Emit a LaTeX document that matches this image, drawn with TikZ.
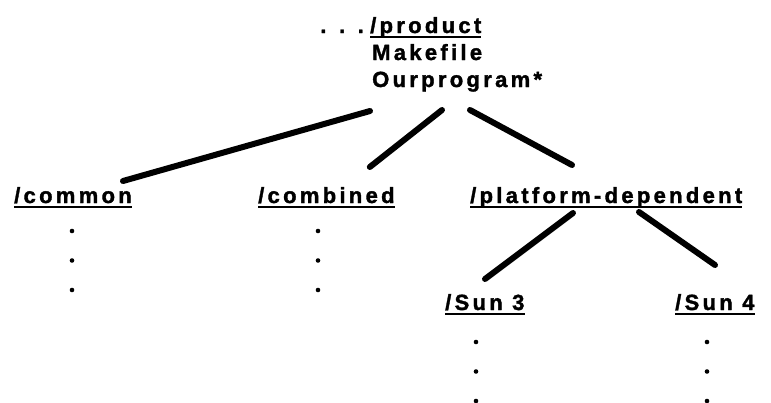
\documentclass[tikz,border=0pt]{standalone}
\usepackage{fontspec}
\newfontfamily\dirfont{Liberation Sans}[LetterSpace=15, FakeBold=1.6]
\usetikzlibrary{positioning, calc}

\tikzset{
	dir/.style={anchor=base west, inner sep=0pt, font=\dirfont\bfseries\fontsize{22}{24}\selectfont},
	branch/.style={line width=6pt, line cap=round},
	uline/.style={line width=2.2pt}
}

\begin{document}
\begin{tikzpicture}[x=1pt, y=-1pt]
		\useasboundingbox (0,0) rectangle (771,402);
		\node[dir] (product) at (370,33) {/product};
		\node[dir, anchor=base east] (prodots) at (364,33) {. . .};
		\node[dir] (makefile) at (372,60) {Makefile};
		\node[dir] (ourprog) at (372,87) {Ourprogram*};
		\node[dir] (common) at (14,203) {/common};
		\node[dir] (combined) at (258,203) {/combined};
		\node[dir] (platform) at (470,203) {/platform-dependent};
		\node[dir] (sun3) at (445,310) {/Sun\ 3};
		\node[dir] (sun4) at (675,310) {/Sun 4};
		% underlines
		\foreach \n in {product, common, combined, platform, sun3, sun4}
			\draw[uline] ([yshift=-4pt]\n.base west) -- ([yshift=-4pt]\n.base east);
		% branches
		\draw[branch] ([xshift=-2pt, yshift=-24pt]ourprog.base west) -- ([xshift=-9pt, yshift=22pt]common.base east);
		\draw[branch] ([xshift=70pt, yshift=-23pt]ourprog.base west) -- ([xshift=-25pt, yshift=36pt]combined.base east);
		\draw[branch] ([xshift=98pt, yshift=-23pt]ourprog.base west) -- ([xshift=102pt, yshift=38pt]platform.base west);
		\draw[branch] ([xshift=103pt, yshift=-10pt]platform.base west) -- ([xshift=40pt, yshift=31pt]sun3.base west);
		\draw[branch] ([xshift=169pt, yshift=-9pt]platform.base west) -- ([xshift=40pt, yshift=45pt]sun4.base west);
		% continuation dots
		\foreach \x/\y in {72/231, 318/231, 476/342, 707/342}
			\foreach \k in {0,1,2}
				\fill (\x,\y+29.5*\k) circle (2.3pt);
\end{tikzpicture}
\end{document}
